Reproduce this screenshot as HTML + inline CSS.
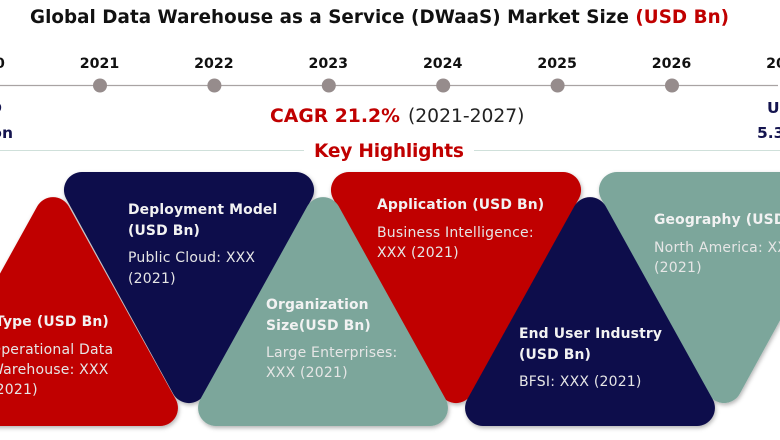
<!DOCTYPE html>
<html lang="en">
<head>
<meta charset="utf-8">
<title>Global DWaaS Market Size</title>
<style>
html,body{margin:0;padding:0;background:#fff;}
#wrap{width:780px;height:440px;overflow:hidden;position:relative;}
svg{display:block;font-family:"DejaVu Sans","Liberation Sans",sans-serif;}
.h{font-weight:bold;font-size:13.9px;letter-spacing:.15px;fill:#f2f2f2;}
.b{font-size:14px;letter-spacing:.2px;fill:#e6e6e6;}
</style>
</head>
<body>
<div id="wrap">
<svg id="chart" width="780" height="440" viewBox="0 0 780 440">
<defs>
<filter id="sh" x="-10%" y="-10%" width="120%" height="120%">
<feDropShadow dx="1" dy="2" stdDeviation="2" flood-color="#000" flood-opacity="0.3"/>
</filter>
<path id="down" d="M18,0 H232 A18,18 0 0 1 247.8,26.7 L140.8,221.7 A18,18 0 0 1 109.2,221.7 L2.2,26.7 A18,18 0 0 1 18,0 Z"/>
<path id="up" d="M109.3,9.3 A18,18 0 0 1 140.7,9.3 L247.7,202.3 A18,18 0 0 1 232,229 H18 A18,18 0 0 1 2.3,202.3 Z"/>
</defs>

<text x="30" y="23" font-size="18.3" font-weight="bold" fill="#111" textLength="699" lengthAdjust="spacing">Global Data Warehouse as a Service (DWaaS) Market Size <tspan fill="#c00000">(USD Bn)</tspan></text>

<line x1="0" y1="85.5" x2="778" y2="85.5" stroke="#a9a3a3" stroke-width="1.3"/>
<g id="timeline"></g>

<g fill="#14144f" font-size="15.5" font-weight="bold" text-anchor="end">
<text x="2" y="113">USD</text>
<text x="13" y="138">1.XX Billion</text>
</g>
<g fill="#14144f" font-size="15.5" font-weight="bold">
<text x="767" y="113">USD</text>
<text x="757" y="138">5.35 Billion</text>
</g>

<text x="270" y="122" font-size="18.8" font-weight="bold" fill="#c00000">CAGR 21.2%</text>
<text x="408" y="122" font-size="18.7" fill="#222">(2021-2027)</text>

<line x1="0" y1="150.5" x2="304" y2="150.5" stroke="#cfe0da" stroke-width="1"/>
<line x1="474" y1="150.5" x2="780" y2="150.5" stroke="#cfe0da" stroke-width="1"/>
<text x="314" y="157" font-size="18.6" font-weight="bold" fill="#c00000" textLength="150" lengthAdjust="spacing">Key Highlights</text>

<g filter="url(#sh)">
<use href="#down" transform="translate(599,172)" fill="#7ba69b"/>
<use href="#down" transform="translate(331,172)" fill="#c00000"/>
<use href="#down" transform="translate(64,172)" fill="#10104c"/>
<use href="#up" transform="translate(-72,197)" fill="#c00000"/>
<use href="#up" transform="translate(198,197)" fill="#7ba69b"/>
<use href="#up" transform="translate(465,197)" fill="#10104c"/>
</g>

<g>
<text class="h" x="-5" y="326">Type (USD Bn)</text>
<text class="b" x="-10" y="354">Operational Data</text>
<text class="b" x="-10" y="374">Warehouse: XXX</text>
<text class="b" x="-10" y="394">(2021)</text>
</g>
<g>
<text class="h" x="128" y="214">Deployment Model</text>
<text class="h" x="128" y="235">(USD Bn)</text>
<text class="b" x="128" y="262">Public Cloud: XXX</text>
<text class="b" x="128" y="283">(2021)</text>
</g>
<g>
<text class="h" x="266" y="309">Organization</text>
<text class="h" x="266" y="330">Size(USD Bn)</text>
<text class="b" x="266" y="357">Large Enterprises:</text>
<text class="b" x="266" y="377">XXX (2021)</text>
</g>
<g>
<text class="h" x="377" y="209">Application (USD Bn)</text>
<text class="b" x="377" y="237">Business Intelligence:</text>
<text class="b" x="377" y="257">XXX (2021)</text>
</g>
<g>
<text class="h" x="519" y="338">End User Industry</text>
<text class="h" x="519" y="359">(USD Bn)</text>
<text class="b" x="519" y="386">BFSI: XXX (2021)</text>
</g>
<g>
<text class="h" x="654" y="224">Geography (USD Bn)</text>
<text class="b" x="654" y="252">North America: XXX</text>
<text class="b" x="654" y="272">(2021)</text>
</g>
</svg>
</div>
<script>
const years = [2020, 2021, 2022, 2023, 2024, 2025, 2026, 2027];
const NS = 'http://www.w3.org/2000/svg';
const timeline = document.getElementById('timeline');
const xScale = function (year) { return 99.5 + (year - 2021) * 114.4; };
years.forEach(function (year) {
  const label = document.createElementNS(NS, 'text');
  label.setAttribute('x', xScale(year));
  label.setAttribute('y', 68);
  label.setAttribute('text-anchor', 'middle');
  label.setAttribute('font-size', '14.2');
  label.setAttribute('font-weight', 'bold');
  label.setAttribute('fill', '#111');
  
  
  label.textContent = year;
  timeline.appendChild(label);
  if (year > years[0] && year < years[years.length - 1]) {
    const dot = document.createElementNS(NS, 'circle');
    dot.setAttribute('cx', xScale(year) + 0.5);
    dot.setAttribute('cy', 85.5);
    dot.setAttribute('r', 7);
    dot.setAttribute('fill', '#968c8c');
    
    
    timeline.appendChild(dot);
  }
});
</script>
</body>
</html>
